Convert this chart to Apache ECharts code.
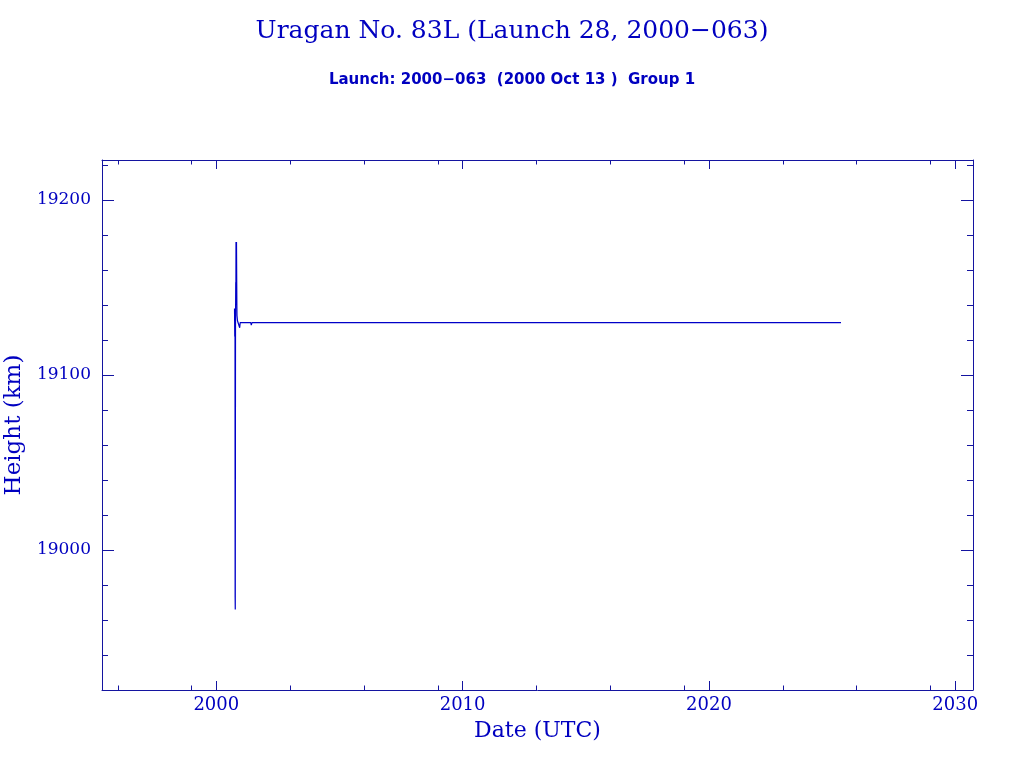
<!DOCTYPE html>
<html>
<head>
<meta charset="utf-8">
<script src="https://cdn.jsdelivr.net/npm/echarts@6/dist/echarts.min.js"></script>
<style>html,body{margin:0;padding:0;background:#fff}#c{width:1024px;height:768px}</style>
</head>
<body>
<div id="c"></div>
<script>
// Data (decimal year, height km)
var dates = [2000.74, 2000.75, 2000.755, 2000.76, 2000.765, 2000.77, 2000.78, 2000.79, 2000.795, 2000.80, 2000.81, 2000.82, 2000.83, 2000.835, 2000.84, 2000.86, 2000.88, 2000.92, 2000.95, 2000.97, 2001.0, 2001.1, 2001.4, 2001.42, 2001.45, 2002.0, 2003.0, 2004.0, 2004.4, 2004.42, 2004.44, 2006.0, 2010.0, 2015.0, 2020.0, 2025.36];
var heights = [19138, 19122, 19136, 19124, 18973, 18966, 19128, 19153, 19140, 19176, 19150, 19176, 19152, 19140, 19134, 19131, 19130, 19130, 19127, 19130, 19129, 19130, 19130, 19128.5, 19130, 19130, 19130, 19130, 19130, 19131, 19130, 19130, 19130, 19130, 19130, 19130];
var xMajorTicks = [2000, 2010, 2020, 2030];
var xMinorTicks = [1996, 1999, 2003, 2006, 2009, 2013, 2016, 2019, 2023, 2026, 2029];
var yMajorTicks = [19000, 19100, 19200];
var titleText = 'Uragan No. 83L (Launch 28, 2000\u2212063)';
var subtitleText = 'Launch: 2000\u2212063  (2000 Oct 13 )  Group 1';

var AX = '#1414a0';
var TX = '#0000c0';
var xMin = 1995.36, xMax = 2030.72, yMin = 18920, yMax = 19222.9;

function xAxisDef(pos, custom, len, label, line) {
  return {
    type: 'value', position: pos, min: xMin, max: xMax,
    axisLine: {show: line, onZero: false, lineStyle: {color: AX, width: 1}},
    axisTick: {show: true, inside: true, length: len, customValues: custom, lineStyle: {color: AX, width: 1}},
    axisLabel: label ? {show: true, customValues: custom, color: TX, fontFamily: 'DejaVu Serif', fontSize: 18, margin: 6, formatter: function(v){return String(Math.round(v));}} : {show: false},
    splitLine: {show: false},
    name: label ? 'Date (UTC)' : '', nameLocation: 'middle', nameGap: 30,
    nameTextStyle: {color: TX, fontFamily: 'DejaVu Serif', fontSize: 22}
  };
}
function yAxisDef(pos, custom, len, label, line) {
  return {
    type: 'value', position: pos, min: yMin, max: yMax,
    axisLine: {show: line, onZero: false, lineStyle: {color: AX, width: 1}},
    axisTick: {show: true, inside: true, length: len, customValues: custom, lineStyle: {color: AX, width: 1}},
    axisLabel: label ? {show: true, customValues: custom, color: TX, fontFamily: 'DejaVu Serif', fontSize: 17, margin: 11, formatter: function(v){return String(Math.round(v));}} : {show: false},
    splitLine: {show: false},
    name: label ? 'Height (km)' : '', nameLocation: 'middle', nameGap: 76,
    nameTextStyle: {color: TX, fontFamily: 'DejaVu Serif', fontSize: 23}
  };
}
var yMinor = [];
for (var v = yMin; v <= yMax; v += 20) { if (yMajorTicks.indexOf(v) < 0) yMinor.push(v); }

var chart = echarts.init(document.getElementById('c'), null, {renderer: 'canvas'});
chart.setOption({
  animation: false,
  backgroundColor: '#ffffff',
  title: [
    {text: titleText, left: 'center', top: 14, textStyle: {color: TX, fontFamily: 'DejaVu Serif', fontSize: 25, fontWeight: 'normal'}},
    {text: subtitleText, left: 'center', top: 68, textStyle: {color: TX, fontFamily: 'DejaVu Sans', fontSize: 15, fontWeight: 'bold'}}
  ],
  grid: {left: 102, top: 160, right: 51, bottom: 78, containLabel: false, outerBoundsMode: 'none'},
  xAxis: [
    xAxisDef('bottom', xMajorTicks, 9, true, true),
    xAxisDef('bottom', xMinorTicks, 4.5, false, false),
    xAxisDef('top', xMajorTicks, 9, false, true),
    xAxisDef('top', xMinorTicks, 4.5, false, false)
  ],
  yAxis: [
    yAxisDef('left', yMajorTicks, 12, true, true),
    yAxisDef('left', yMinor, 6, false, false),
    yAxisDef('right', yMajorTicks, 12, false, true),
    yAxisDef('right', yMinor, 6, false, false)
  ],
  series: [{
    type: 'line', xAxisIndex: 0, yAxisIndex: 0,
    data: dates.map(function(d, i){return [d, heights[i]];}),
    showSymbol: false, symbol: 'none',
    lineStyle: {color: '#0000c8', width: 1.2}
  }]
});
</script>
</body>
</html>
